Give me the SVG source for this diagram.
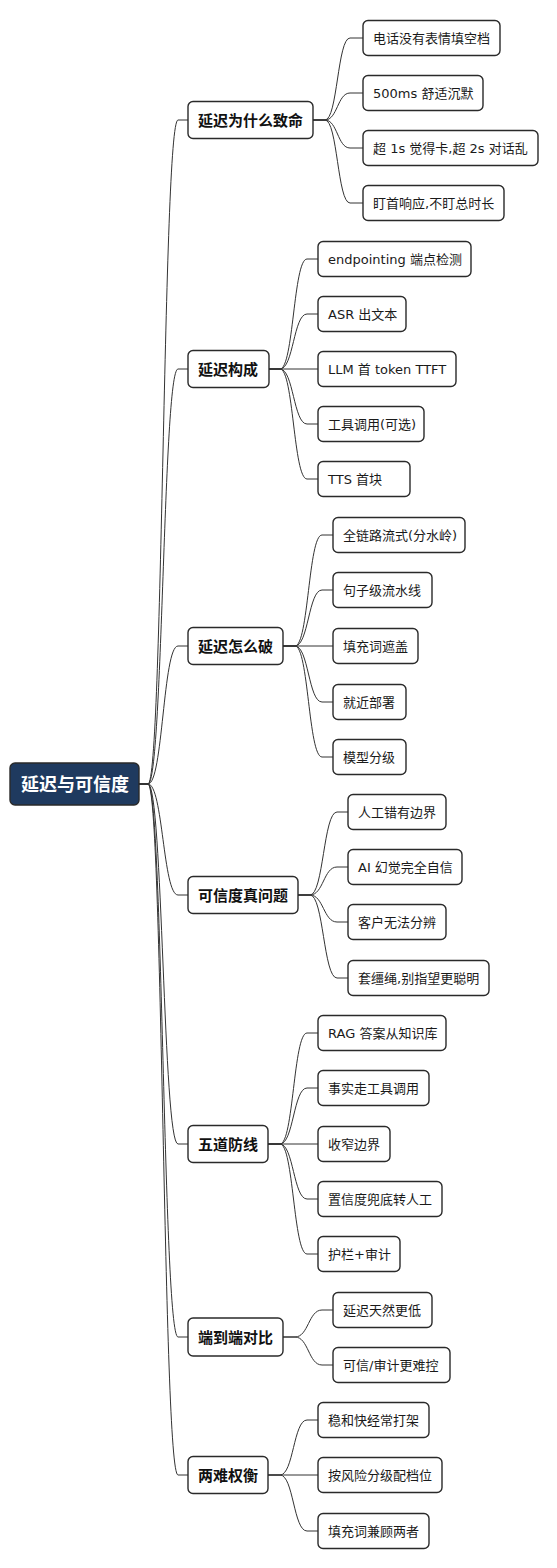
<svg xmlns="http://www.w3.org/2000/svg" width="557" height="1568" viewBox="0 0 557 1568">
<style>
.bg{fill:#ffffff}
.box{fill:#ffffff;stroke:#2a2a2a;stroke-width:1.4}
.rootbox{fill:#1f3a5f;stroke:#2a2a2a;stroke-width:1.4}
.t{font-family:"DejaVu Sans","Noto Sans CJK SC",sans-serif;font-size:13px;fill:#1a1a1a}
.t1{font-family:"DejaVu Sans","Noto Sans CJK SC",sans-serif;font-size:15px;font-weight:bold;fill:#111111}
.tr{font-family:"DejaVu Sans","Noto Sans CJK SC",sans-serif;font-size:18px;font-weight:bold;fill:#ffffff}
.c{fill:none;stroke:#333333;stroke-width:1}
</style>
<rect class="bg" x="0" y="0" width="557" height="1568"/>
<g id="connectors">
<path class="c" d="M139,784 H148 C163,784 163,120 178,120 H188"/>
<path class="c" d="M139,784 H148 C163,784 163,369 178,369 H188"/>
<path class="c" d="M139,784 H148 C163,784 163,646 178,646 H188"/>
<path class="c" d="M139,784 H148 C163,784 163,895 178,895 H188"/>
<path class="c" d="M139,784 H148 C163,784 163,1144 178,1144 H188"/>
<path class="c" d="M139,784 H148 C163,784 163,1337 178,1337 H188"/>
<path class="c" d="M139,784 H148 C163,784 163,1475 178,1475 H188"/>

<path class="c" d="M313,120 H325 C337.5,120 337.5,38 350,38 H363"/>
<path class="c" d="M313,120 H325 C337.5,120 337.5,93 350,93 H363"/>
<path class="c" d="M313,120 H325 C337.5,120 337.5,148 350,148 H363"/>
<path class="c" d="M313,120 H325 C337.5,120 337.5,203 350,203 H363"/>

<path class="c" d="M269,369 H280 C293.5,369 293.5,259 307,259 H318"/>
<path class="c" d="M269,369 H280 C293.5,369 293.5,314 307,314 H318"/>
<path class="c" d="M269,369 H318"/>
<path class="c" d="M269,369 H280 C293.5,369 293.5,424 307,424 H318"/>
<path class="c" d="M269,369 H280 C293.5,369 293.5,479 307,479 H318"/>

<path class="c" d="M283,646 H295 C308.5,646 308.5,535 322,535 H333"/>
<path class="c" d="M283,646 H295 C308.5,646 308.5,590 322,590 H333"/>
<path class="c" d="M283,646 H333"/>
<path class="c" d="M283,646 H295 C308.5,646 308.5,702 322,702 H333"/>
<path class="c" d="M283,646 H295 C308.5,646 308.5,757 322,757 H333"/>

<path class="c" d="M298,895 H310 C323.5,895 323.5,812 337,812 H348"/>
<path class="c" d="M298,895 H310 C323.5,895 323.5,867 337,867 H348"/>
<path class="c" d="M298,895 H310 C323.5,895 323.5,922 337,922 H348"/>
<path class="c" d="M298,895 H310 C323.5,895 323.5,978 337,978 H348"/>

<path class="c" d="M268,1144 H280 C293.5,1144 293.5,1033 307,1033 H318"/>
<path class="c" d="M268,1144 H280 C293.5,1144 293.5,1088 307,1088 H318"/>
<path class="c" d="M268,1144 H318"/>
<path class="c" d="M268,1144 H280 C293.5,1144 293.5,1199 307,1199 H318"/>
<path class="c" d="M268,1144 H280 C293.5,1144 293.5,1254 307,1254 H318"/>

<path class="c" d="M283,1337 H295 C308.5,1337 308.5,1310 322,1310 H333"/>
<path class="c" d="M283,1337 H295 C308.5,1337 308.5,1365 322,1365 H333"/>

<path class="c" d="M268,1475 H280 C293.5,1475 293.5,1420 307,1420 H318"/>
<path class="c" d="M268,1475 H318"/>
<path class="c" d="M268,1475 H280 C293.5,1475 293.5,1531 307,1531 H318"/>
</g>

<g id="root"><rect class="rootbox" x="10" y="763" width="129" height="42" rx="5"/><text class="tr" x="21" y="790.5">延迟与可信度</text></g>

<g id="n1"><rect class="box" x="188" y="101.5" width="125" height="37" rx="5"/><text class="t1" x="198" y="125.5">延迟为什么致命</text></g>
<g id="n1a"><rect class="box" x="363" y="20.5" width="137" height="35" rx="5"/><text class="t" x="373" y="43">电话没有表情填空档</text></g>
<g id="n1b"><rect class="box" x="363" y="75.5" width="120" height="35" rx="5"/><text class="t" x="373" y="98">500ms 舒适沉默</text></g>
<g id="n1c"><rect class="box" x="363" y="130.5" width="175" height="35" rx="5"/><text class="t" x="373" y="153">超 1s 觉得卡,超 2s 对话乱</text></g>
<g id="n1d"><rect class="box" x="363" y="185.5" width="141" height="35" rx="5"/><text class="t" x="373" y="208">盯首响应,不盯总时长</text></g>

<g id="n2"><rect class="box" x="188" y="350.5" width="81" height="37" rx="5"/><text class="t1" x="198" y="374.5">延迟构成</text></g>
<g id="n2a"><rect class="box" x="318" y="241.5" width="153" height="35" rx="5"/><text class="t" x="328" y="264">endpointing 端点检测</text></g>
<g id="n2b"><rect class="box" x="318" y="296.5" width="88" height="35" rx="5"/><text class="t" x="328" y="319">ASR 出文本</text></g>
<g id="n2c"><rect class="box" x="318" y="351.5" width="138" height="35" rx="5"/><text class="t" x="328" y="374">LLM 首 token TTFT</text></g>
<g id="n2d"><rect class="box" x="318" y="406.5" width="106" height="35" rx="5"/><text class="t" x="328" y="429">工具调用(可选)</text></g>
<g id="n2e"><rect class="box" x="318" y="461.5" width="92" height="35" rx="5"/><text class="t" x="328" y="484">TTS 首块</text></g>

<g id="n3"><rect class="box" x="188" y="627.5" width="95" height="37" rx="5"/><text class="t1" x="198" y="651.5">延迟怎么破</text></g>
<g id="n3a"><rect class="box" x="333" y="517.5" width="132" height="35" rx="5"/><text class="t" x="343" y="540">全链路流式(分水岭)</text></g>
<g id="n3b"><rect class="box" x="333" y="572.5" width="99" height="35" rx="5"/><text class="t" x="343" y="595">句子级流水线</text></g>
<g id="n3c"><rect class="box" x="333" y="628.5" width="85" height="35" rx="5"/><text class="t" x="343" y="651">填充词遮盖</text></g>
<g id="n3d"><rect class="box" x="333" y="684.5" width="73" height="35" rx="5"/><text class="t" x="343" y="707">就近部署</text></g>
<g id="n3e"><rect class="box" x="333" y="739.5" width="73" height="35" rx="5"/><text class="t" x="343" y="762">模型分级</text></g>

<g id="n4"><rect class="box" x="188" y="876.5" width="110" height="37" rx="5"/><text class="t1" x="198" y="900.5">可信度真问题</text></g>
<g id="n4a"><rect class="box" x="348" y="794.5" width="98" height="35" rx="5"/><text class="t" x="358" y="817">人工错有边界</text></g>
<g id="n4b"><rect class="box" x="348" y="849.5" width="114" height="35" rx="5"/><text class="t" x="358" y="872">AI 幻觉完全自信</text></g>
<g id="n4c"><rect class="box" x="348" y="904.5" width="98" height="35" rx="5"/><text class="t" x="358" y="927">客户无法分辨</text></g>
<g id="n4d"><rect class="box" x="348" y="960.5" width="141" height="35" rx="5"/><text class="t" x="358" y="983">套缰绳,别指望更聪明</text></g>

<g id="n5"><rect class="box" x="188" y="1125.5" width="80" height="37" rx="5"/><text class="t1" x="198" y="1149.5">五道防线</text></g>
<g id="n5a"><rect class="box" x="318" y="1015.5" width="128" height="35" rx="5"/><text class="t" x="328" y="1038">RAG 答案从知识库</text></g>
<g id="n5b"><rect class="box" x="318" y="1070.5" width="111" height="35" rx="5"/><text class="t" x="328" y="1093">事实走工具调用</text></g>
<g id="n5c"><rect class="box" x="318" y="1126.5" width="72" height="35" rx="5"/><text class="t" x="328" y="1149">收窄边界</text></g>
<g id="n5d"><rect class="box" x="318" y="1181.5" width="124" height="35" rx="5"/><text class="t" x="328" y="1204">置信度兜底转人工</text></g>
<g id="n5e"><rect class="box" x="318" y="1236.5" width="82" height="35" rx="5"/><text class="t" x="328" y="1259">护栏+审计</text></g>

<g id="n6"><rect class="box" x="188" y="1318" width="95" height="38" rx="5"/><text class="t1" x="198" y="1342.5">端到端对比</text></g>
<g id="n6a"><rect class="box" x="333" y="1292.5" width="99" height="35" rx="5"/><text class="t" x="343" y="1315">延迟天然更低</text></g>
<g id="n6b"><rect class="box" x="333" y="1347.5" width="117" height="35" rx="5"/><text class="t" x="343" y="1370">可信/审计更难控</text></g>

<g id="n7"><rect class="box" x="188" y="1456.5" width="80" height="37" rx="5"/><text class="t1" x="198" y="1480.5">两难权衡</text></g>
<g id="n7a"><rect class="box" x="318" y="1402.5" width="111" height="35" rx="5"/><text class="t" x="328" y="1425">稳和快经常打架</text></g>
<g id="n7b"><rect class="box" x="318" y="1457.5" width="124" height="35" rx="5"/><text class="t" x="328" y="1480">按风险分级配档位</text></g>
<g id="n7c"><rect class="box" x="318" y="1513.5" width="111" height="35" rx="5"/><text class="t" x="328" y="1536">填充词兼顾两者</text></g>
</svg>
